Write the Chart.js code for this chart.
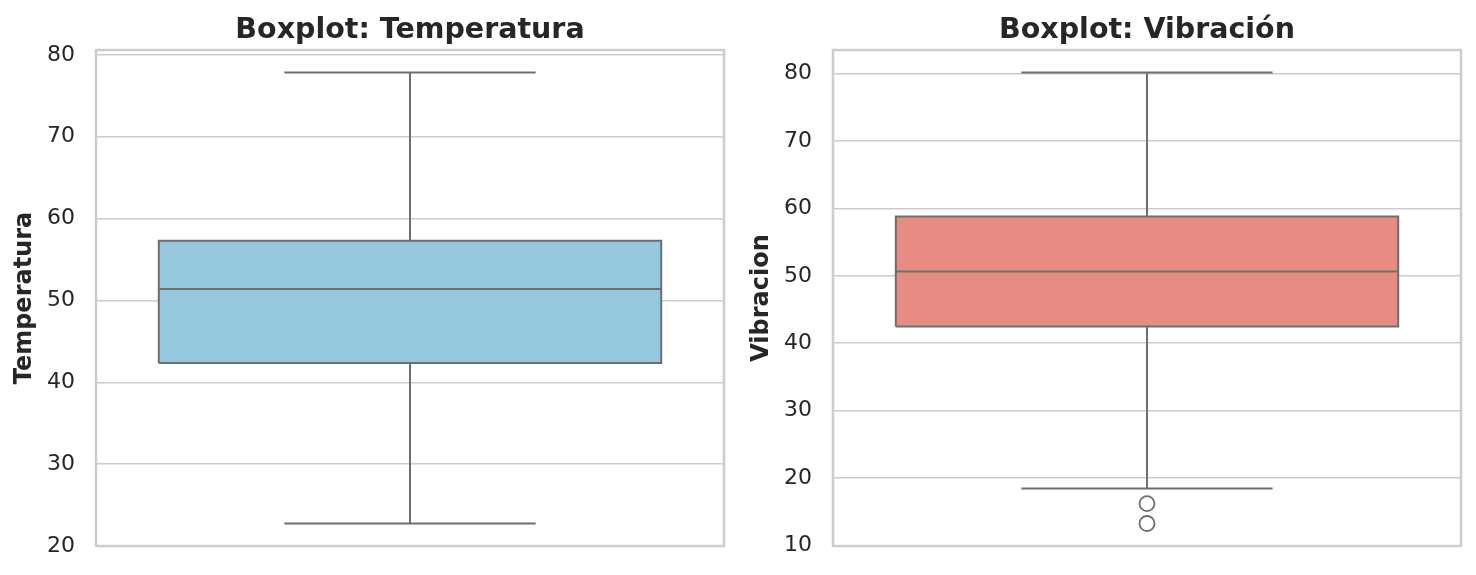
<!DOCTYPE html>
<html>
<head>
<meta charset="utf-8">
<script src="https://cdn.jsdelivr.net/npm/chart.js@4.4.1/dist/chart.umd.min.js"></script>
<style>
  html, body { margin: 0; padding: 0; background: #ffffff; }
  body { width: 1476px; height: 575px; position: relative; overflow: hidden; }
  .panel { position: absolute; top: 0; width: 738px; height: 575px; }
</style>
</head>
<body>
<div class="panel" style="left:0px"><canvas id="c0"></canvas></div>
<div class="panel" style="left:737px"><canvas id="c1"></canvas></div>
<script>
// ---- data ----
const variables   = ['Temperatura', 'Vibracion'];
const titles      = ['Boxplot: Temperatura', 'Boxplot: Vibración'];
const whiskerLow  = [22.75, 18.45];
const q1Values    = [42.36, 42.48];
const medians     = [51.40, 50.64];
const q3Values    = [57.30, 58.80];
const whiskerHigh = [77.85, 80.15];
const outliers    = [[], [16.2, 13.26]];
const axisMin     = [20.0, 9.92];
const axisMax     = [80.6, 83.49];
const tickStep    = 10;
const boxColors   = ['#95c8de', '#e78c82'];

// ---- styling ----
const BOX_HALF = 0.4, CAP_HALF = 0.2;
const LINE = '#6e6e6e';
const GRID = '#cccccc';
const TEXT = '#262626';
Chart.defaults.font.family = "'DejaVu Sans', sans-serif";
Chart.defaults.color = TEXT;

const frame = {
  id: 'frame',
  beforeDatasetsDraw(chart) {
    const a = chart.chartArea, ctx = chart.ctx;
    ctx.save();
    ctx.strokeStyle = GRID;
    ctx.lineWidth = 2.5;
    ctx.strokeRect(a.left, a.top, a.right - a.left, a.bottom - a.top);
    ctx.restore();
  }
};

function seg(points) {
  return {
    data: points, showLine: true, fill: false, borderColor: LINE,
    borderWidth: 2, pointRadius: 0, tension: 0
  };
}

function makeChart(i) {
  const datasets = [
    seg([{x: -BOX_HALF, y: medians[i]}, {x: BOX_HALF, y: medians[i]}]),
    seg([{x: 0, y: q3Values[i]}, {x: 0, y: whiskerHigh[i]}]),
    seg([{x: 0, y: q1Values[i]}, {x: 0, y: whiskerLow[i]}]),
    seg([{x: -CAP_HALF, y: whiskerHigh[i]}, {x: CAP_HALF, y: whiskerHigh[i]}]),
    seg([{x: -CAP_HALF, y: whiskerLow[i]}, {x: CAP_HALF, y: whiskerLow[i]}]),
    {
      data: [
        {x: -BOX_HALF, y: q1Values[i]}, {x: BOX_HALF, y: q1Values[i]},
        {x: BOX_HALF, y: q3Values[i]}, {x: -BOX_HALF, y: q3Values[i]},
        {x: -BOX_HALF, y: q1Values[i]}
      ],
      showLine: true, fill: 'shape', backgroundColor: boxColors[i],
      borderColor: LINE, borderWidth: 2, pointRadius: 0, tension: 0
    },
    {
      data: outliers[i].map(v => ({x: 0, y: v})),
      showLine: false, pointRadius: 7.5, pointHoverRadius: 7.5,
      pointBackgroundColor: 'rgba(0,0,0,0)', pointBorderColor: LINE,
      pointBorderWidth: 1.8
    }
  ];
  return new Chart(document.getElementById('c' + i), {
    type: 'scatter',
    data: { datasets },
    options: {
      responsive: true, maintainAspectRatio: false, animation: false,
      devicePixelRatio: 1,
      layout: { padding: { left: 0, right: 14, top: 0, bottom: 29 } },
      plugins: {
        legend: { display: false },
        tooltip: { enabled: false },
        title: {
          display: true, text: titles[i], fullSize: false, color: TEXT,
          font: { size: 28.5, weight: 'bold' },
          padding: { top: 13, bottom: 2.8 }
        }
      },
      scales: {
        x: { type: 'linear', min: -0.5, max: 0.5, display: false },
        y: {
          type: 'linear', min: axisMin[i], max: axisMax[i],
          afterFit(s) { s.width = 96; },
          afterBuildTicks(s) {
            const out = [];
            for (let v = Math.ceil(s.min / tickStep) * tickStep; v <= s.max + 1e-9; v += tickStep) {
              out.push({ value: v });
            }
            s.ticks = out;
          },
          ticks: { stepSize: tickStep, color: TEXT, font: { size: 22 }, padding: 3 },
          grid: { color: GRID, lineWidth: 1.6, drawTicks: true, tickLength: 18, tickColor: 'rgba(0,0,0,0)' },
          border: { display: false },
          title: {
            display: true, text: variables[i], color: TEXT,
            font: { size: 24, weight: 'bold' }, padding: { top: 10.5, bottom: 0 }
          }
        }
      }
    },
    plugins: [frame]
  });
}
makeChart(0);
makeChart(1);
</script>
</body>
</html>
